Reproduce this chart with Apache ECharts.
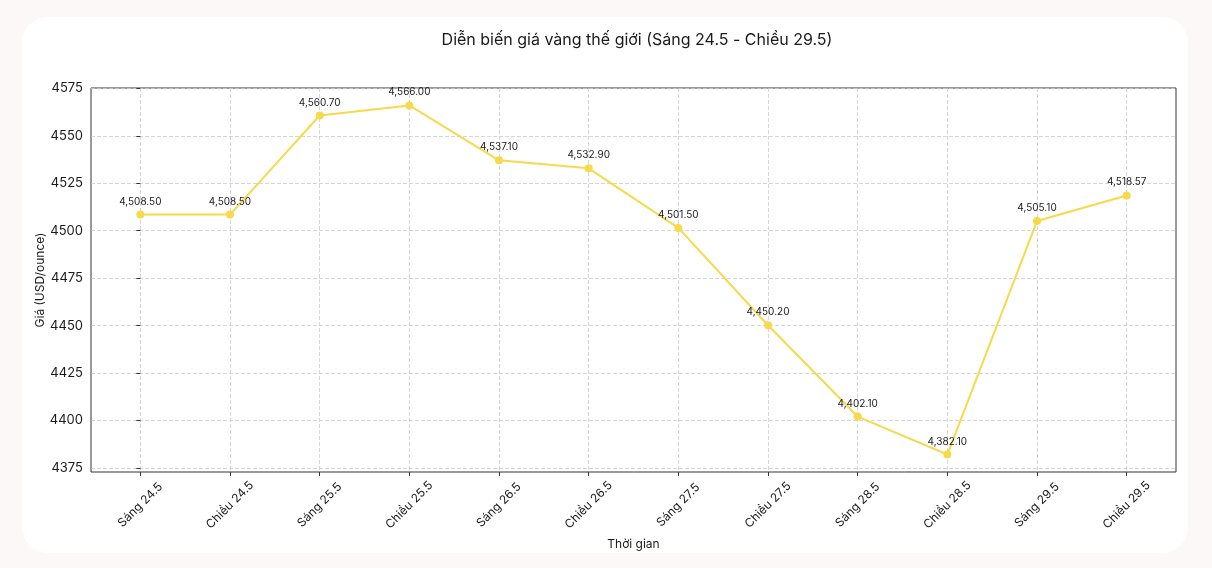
<!DOCTYPE html>
<html>
<head>
<meta charset="utf-8">
<script src="https://cdn.jsdelivr.net/npm/echarts@6/dist/echarts.min.js"></script>
<style>
html,body{margin:0;padding:0;width:1212px;height:568px;background:#fcf8f8;overflow:hidden;}
#card{position:absolute;left:22px;top:17px;width:1166px;height:536px;background:#fff;border-radius:26px;}
#chart{position:absolute;left:0;top:0;width:1212px;height:568px;}
</style>
</head>
<body>
<div id="card"></div>
<div id="chart"></div>
<script>
const categories = ["Sáng 24.5","Chiều 24.5","Sáng 25.5","Chiều 25.5","Sáng 26.5","Chiều 26.5","Sáng 27.5","Chiều 27.5","Sáng 28.5","Chiều 28.5","Sáng 29.5","Chiều 29.5"];
const prices = [4508.50,4508.50,4560.70,4566.00,4537.10,4532.90,4501.50,4450.20,4402.10,4382.10,4505.10,4518.57];
const yTicks = [4375,4400,4425,4450,4475,4500,4525,4550,4575];
const xTicks = categories.map((c,i)=>i);

const FONT = 'Inter, "Noto Sans", sans-serif';
const chart = echarts.init(document.getElementById('chart'), null, {renderer:'canvas'});
const fmt = v => v.toLocaleString('en-US',{minimumFractionDigits:2,maximumFractionDigits:2});

chart.setOption({
  backgroundColor:'transparent',
  animation:false,
  title:{
    text:'Diễn biến giá vàng thế giới (Sáng 24.5 - Chiều 29.5)',
    left:632, textAlign:'center', top:27,
    textStyle:{fontFamily:FONT,fontSize:16,fontWeight:'normal',color:'#1a1a1a'}
  },
  grid:{left:91,right:36,top:88,bottom:96,show:true,borderColor:'#333',borderWidth:1,backgroundColor:'transparent'},
  xAxis:{
    type:'value', min:-0.55, max:11.55,
    name:'Thời gian', nameLocation:'middle', nameGap:64,
    nameTextStyle:{fontFamily:FONT,fontSize:12,color:'#1a1a1a'},
    axisLine:{show:false},
    axisTick:{show:true,length:4,lineStyle:{color:'#333'},customValues:xTicks},
    axisLabel:{customValues:xTicks,rotate:45,align:'center',verticalAlign:'middle',fontFamily:FONT,fontSize:12,color:'#1a1a1a',margin:33,
      formatter:v=>categories[Math.round(v)]},
    splitLine:{show:true,lineStyle:{color:'#cccccc',type:[4,2],width:0.8}}
  },
  yAxis:{
    type:'value', min:4372.9, max:4575.2,
    name:'Giá (USD/ounce)', nameLocation:'middle', nameGap:45, nameRotate:90, nameMoveOverlap:false,
    nameTextStyle:{fontFamily:FONT,fontSize:12,color:'#1a1a1a'},
    axisLine:{show:false},
    axisTick:{show:true,length:4,lineStyle:{color:'#333'},customValues:yTicks},
    axisLabel:{customValues:yTicks,fontFamily:FONT,fontSize:13,color:'#1a1a1a',margin:8,formatter:v=>String(v)},
    splitLine:{show:true,lineStyle:{color:'#cccccc',type:[4,2],width:0.8}}
  },
  series:[{
    type:'line',
    data:prices.map((v,i)=>[i,v]),
    symbol:'circle', symbolSize:8,
    lineStyle:{color:'#f7d94c',width:2},
    itemStyle:{color:'#f7d94c'},
    label:{show:true,position:'top',distance:4,fontFamily:FONT,fontSize:10,color:'#1a1a1a',
      formatter:p=>fmt(p.value[1])}
  }]
});
</script>
</body>
</html>
